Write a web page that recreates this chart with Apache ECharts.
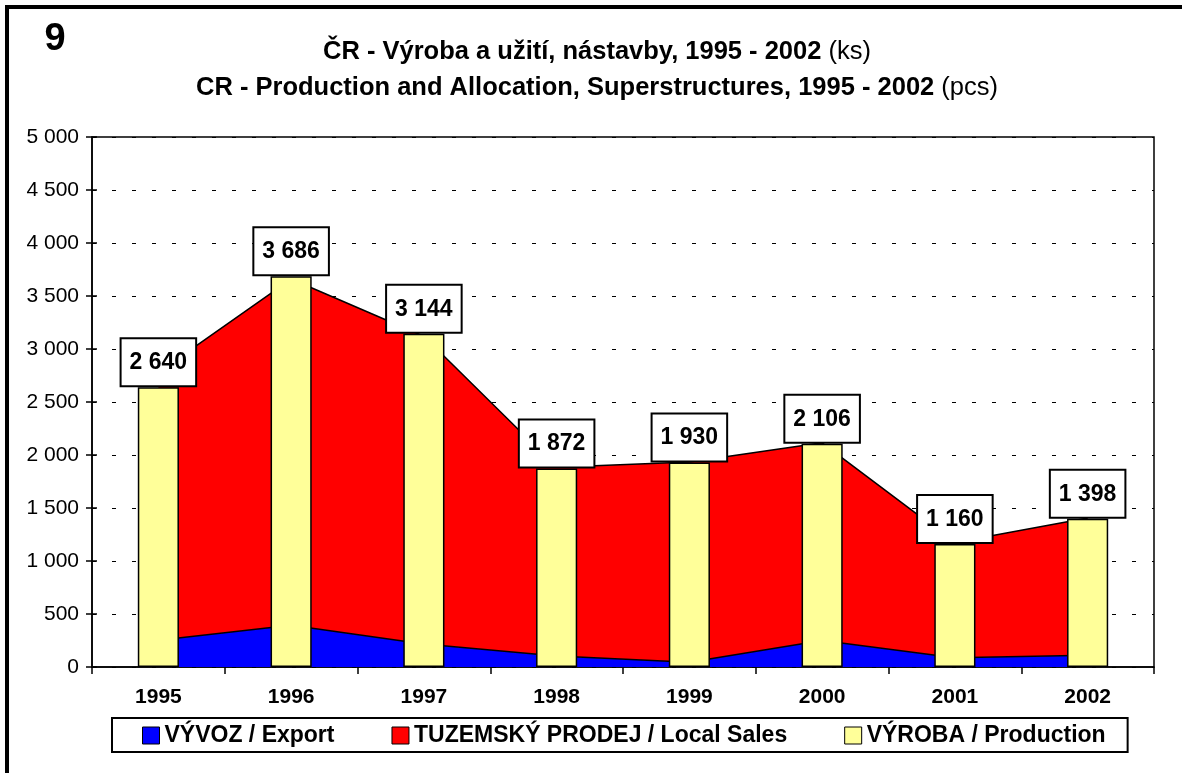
<!DOCTYPE html>
<html>
<head>
<meta charset="utf-8">
<script src="https://cdn.jsdelivr.net/npm/echarts@6/dist/echarts.min.js"></script>
<style>
  html, body { margin: 0; padding: 0; background: #fff; }
  #chart { width: 1182px; height: 773px; }
</style>
</head>
<body>
<div id="chart"></div>
<script>
// =====================
// Data
// =====================
const YEARS = ["1995", "1996", "1997", "1998", "1999", "2000", "2001", "2002"]
const EXPORT = [253, 394, 218, 104, 45, 250, 87, 110]
const LOCAL_SALES = [2527, 3266, 2902, 1781, 1890, 1865, 1087, 1295]
const PRODUCTION = [2640, 3686, 3144, 1872, 1930, 2106, 1160, 1398]

const NAMES = ["VÝVOZ / Export", "TUZEMSKÝ PRODEJ / Local Sales", "VÝROBA / Production"]
const COLORS = ["#0000FF", "#FF0000", "#FFFF99"]

const FONT = "'Liberation Sans', Arial, sans-serif"

// 2640 -> "2 640"
function fmt(v) {
  return String(v).replace(/\B(?=(\d{3})+(?!\d))/g, " ")
}

const chart = echarts.init(document.getElementById("chart"))

const titleRich = {
  b: { font: "bold 25.5px " + FONT, fill: "#000", lineHeight: 36 },
  n: { font: "25.5px " + FONT, fill: "#000", lineHeight: 36 }
}

const option = {
  animation: false,
  backgroundColor: "#fff",

  graphic: [
    {
      type: "rect",
      shape: { x: 7, y: 7, width: 1200, height: 800 },
      style: { fill: null, stroke: "#000", lineWidth: 4 },
      silent: true
    },
    {
      type: "text",
      x: 55, y: 40,
      style: { text: "9", font: "bold 38px " + FONT, fill: "#000", align: "center", verticalAlign: "middle" }
    },
    {
      type: "text",
      x: 597, y: 34,
      style: {
        text: "{b|ČR - Výroba a užití, nástavby, 1995 - 2002 }{n|(ks)}\n{b|CR - Production and Allocation, Superstructures, 1995 - 2002 }{n|(pcs)}",
        align: "center",
        verticalAlign: "top",
        rich: titleRich
      }
    }
  ],

  legend: {
    left: 112,
    top: 718,
    padding: [6, 22, 5, 30],
    itemGap: 57,
    itemWidth: 17,
    itemHeight: 17,
    icon: "rect",
    borderColor: "#000",
    borderWidth: 2,
    backgroundColor: "#fff",
    textStyle: { fontFamily: FONT, fontWeight: "bold", fontSize: 23, color: "#000" },
    data: NAMES.map((n, i) => ({
      name: n,
      itemStyle: { color: COLORS[i], borderColor: "#000", borderWidth: 1 }
    }))
  },

  grid: {
    left: 92,
    right: 28,
    top: 137,
    bottom: 106,
    show: true,
    borderColor: "#000",
    borderWidth: 1.5,
    backgroundColor: "#fff"
  },

  xAxis: {
    type: "category",
    data: YEARS,
    boundaryGap: true,
    axisLine: { lineStyle: { color: "#000", width: 1.5 } },
    axisTick: { show: true, length: 7, interval: 0, lineStyle: { color: "#000", width: 1.5 } },
    axisLabel: { fontFamily: FONT, fontWeight: "bold", fontSize: 21, color: "#000", margin: 20 }
  },

  yAxis: [
    {
      type: "value",
      min: 0,
      max: 5000,
      interval: 500,
      axisLine: { show: true, lineStyle: { color: "#000", width: 1.5 } },
      axisTick: { show: true, length: 6, lineStyle: { color: "#000", width: 1.5 } },
      axisLabel: { fontFamily: FONT, fontSize: 21, color: "#000", margin: 13, formatter: fmt },
      splitLine: { lineStyle: { color: "#000", width: 1, type: [4, 16] } }
    },
    {
      // inner half of the cross ticks
      type: "value",
      position: "left",
      min: 0,
      max: 5000,
      interval: 500,
      axisLine: { show: false },
      axisTick: { show: true, inside: true, length: 5, lineStyle: { color: "#000", width: 1.5 } },
      axisLabel: { show: false },
      splitLine: { show: false }
    }
  ],

  series: [
    {
      name: NAMES[0],
      type: "line",
      stack: "use",
      data: EXPORT,
      symbol: "none",
      color: COLORS[0],
      lineStyle: { color: "#000", width: 1.5 },
      areaStyle: { color: COLORS[0], opacity: 1 },
      z: 2
    },
    {
      name: NAMES[1],
      type: "line",
      stack: "use",
      data: LOCAL_SALES,
      symbol: "none",
      color: COLORS[1],
      lineStyle: { color: "#000", width: 1.5 },
      areaStyle: { color: COLORS[1], opacity: 1 },
      z: 2
    },
    {
      name: NAMES[2],
      type: "bar",
      data: PRODUCTION,
      barWidth: "31%",
      z: 4,
      itemStyle: { color: COLORS[2], borderColor: "#000", borderWidth: 1.5 },
      label: {
        show: true,
        position: "top",
        distance: 2,
        formatter: p => fmt(p.value),
        fontFamily: FONT,
        fontWeight: "bold",
        fontSize: 23,
        color: "#000",
        backgroundColor: "#fff",
        borderColor: "#000",
        borderWidth: 2,
        padding: [12, 8, 11, 8]
      }
    }
  ]
}

chart.setOption(option)
</script>
</body>
</html>
